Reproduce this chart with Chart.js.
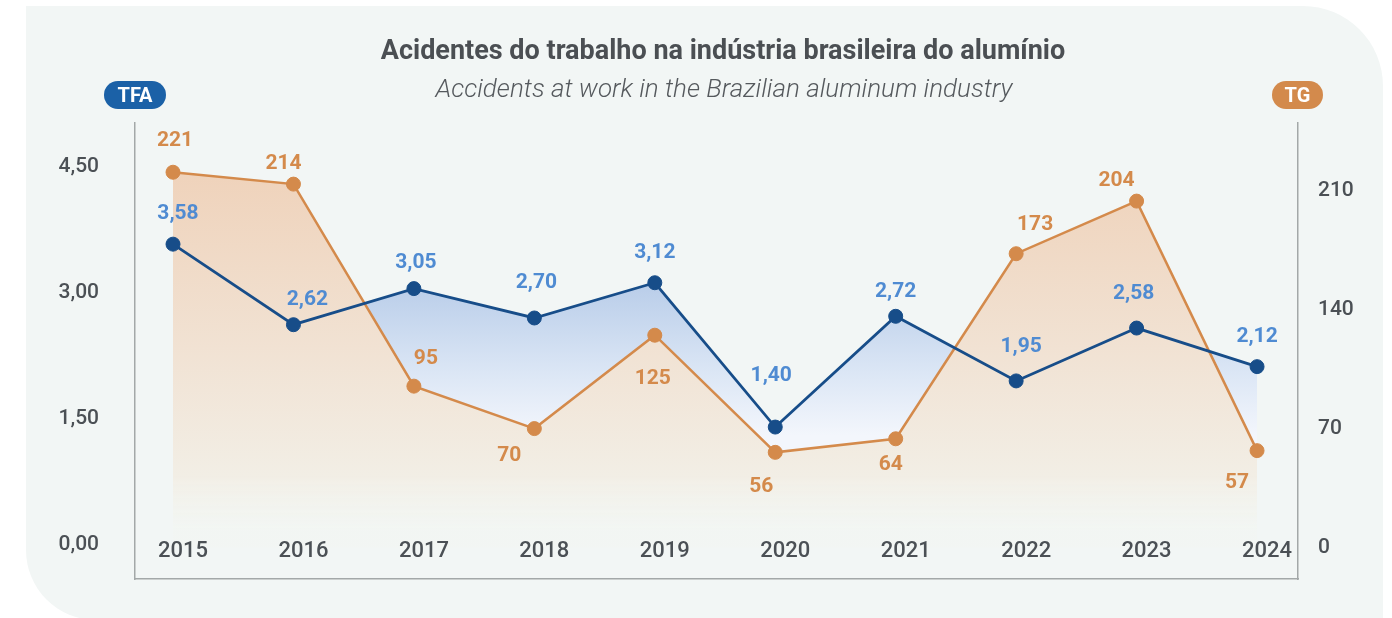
<!DOCTYPE html>
<html lang="pt-BR">
<head>
<meta charset="utf-8">
<title>Acidentes do trabalho na indústria brasileira do alumínio</title>
<script src="https://cdn.jsdelivr.net/npm/chart.js@4.4.1/dist/chart.umd.min.js"></script>
<style>
  html, body { margin: 0; padding: 0; background: #ffffff; }
  #wrap { position: relative; width: 1392px; height: 618px; overflow: hidden; font-family: Roboto, "Noto Sans", sans-serif; }
  .card { position: absolute; left: 26px; top: 6px; width: 1357px; height: 614px; background: #f2f6f5; border-radius: 0 80px 0 70px; }
  #acidentes { position: absolute; left: 0; top: 0; }
  .title { position: absolute; left: 723px; top: 34px; transform: translateX(-50%); white-space: nowrap;
           font-weight: 700; font-size: 27px; line-height: 32px; color: #4b4f53; }
  .subtitle { position: absolute; left: 724px; top: 73px; transform: translateX(-50%); white-space: nowrap;
              font-weight: 300; font-style: italic; font-size: 26px; line-height: 30px; color: #55595d; }
  .badge { position: absolute; top: 81px; height: 28px; border-radius: 14px; color: #ffffff;
           font-weight: 700; font-size: 20px; line-height: 28px; text-align: center; }
  .badge.tfa { left: 104px; width: 62px; background: #1b61a7; }
  .badge.tg { left: 1272px; width: 51px; background: #d38a4c; }
</style>
</head>
<body>
<div id="wrap">
  <div class="card"></div>
  <canvas id="acidentes" width="1392" height="618"></canvas>
  <div class="title">Acidentes do trabalho na indústria brasileira do alumínio</div>
  <div class="subtitle">Accidents at work in the Brazilian aluminum industry</div>
  <div class="badge tfa">TFA</div>
  <div class="badge tg">TG</div>
</div>
<script>
// Séries anuais
const YEARS = ['2015', '2016', '2017', '2018', '2019', '2020', '2021', '2022', '2023', '2024'];
const TFA = [3.58, 2.62, 3.05, 2.70, 3.12, 1.40, 2.72, 1.95, 2.58, 2.12];
const TG = [221, 214, 95, 70, 125, 56, 64, 173, 204, 57];

// Marcas dos eixos
const TFA_TICKS = [0, 1.5, 3, 4.5];
const TG_TICKS = [0, 70, 140, 210];

// Deslocamento dos rótulos de valor em relação ao ponto
const TFA_LABEL_DX = [5, 14, 2, 2, 0, -4, 0, 5, -3, 0];
const TFA_LABEL_DY = [-30, -25, -26, -35, -30, -51, -25, -34, -34, -30];
const TG_LABEL_DX = [2, -10, 12, -25, -2, -14, -5, 19, -20, -20];
const TG_LABEL_DY = [-31, -20, -27, 27, 44, 34, 26, -29, -20, 32];

const BLUE = '#174d89';
const BLUE_TEXT = '#4f8bd2';
const ORANGE = '#d48a4b';
const AXIS_TEXT = '#4b5055';

const fmtDec = (v) => v.toFixed(2).replace('.', ',');
const fmtInt = (v) => String(Math.round(v));

// Degradê azul entre as duas linhas
function blueFill(c) {
  const chart = c.chart;
  if (!chart.chartArea) return 'rgba(0,0,0,0)';
  const y = chart.scales.y;
  const g = chart.ctx.createLinearGradient(0, y.getPixelForValue(3.2), 0, y.getPixelForValue(1.3));
  g.addColorStop(0, '#b6cbe8');
  g.addColorStop(0.6, '#dbe6f5');
  g.addColorStop(1, '#f3f6fc');
  return g;
}

// Degradê laranja abaixo da linha TG
function orangeFill(c) {
  const chart = c.chart;
  if (!chart.chartArea) return 'rgba(0,0,0,0)';
  const y1 = chart.scales.y1;
  const g = chart.ctx.createLinearGradient(0, y1.getPixelForValue(225), 0, y1.getPixelForValue(10));
  g.addColorStop(0, '#efd2ba');
  g.addColorStop(0.5, '#f1e2d3');
  g.addColorStop(0.85, '#f2eee5');
  g.addColorStop(1, 'rgba(242,246,242,0.6)');
  return g;
}

const valueLabels = {
  id: 'valueLabels',
  afterDatasetsDraw(chart) {
    const { ctx } = chart;
    const sets = [
      { meta: chart.getDatasetMeta(0), values: TFA, dx: TFA_LABEL_DX, dy: TFA_LABEL_DY, color: BLUE_TEXT, fmt: fmtDec },
      { meta: chart.getDatasetMeta(1), values: TG, dx: TG_LABEL_DX, dy: TG_LABEL_DY, color: ORANGE, fmt: fmtInt }
    ];
    ctx.save();
    ctx.font = 'bold 21px Roboto';
    ctx.textAlign = 'center';
    ctx.textBaseline = 'middle';
    sets.forEach((s) => {
      ctx.fillStyle = s.color;
      s.meta.data.forEach((pt, i) => {
        ctx.fillText(s.fmt(s.values[i]), pt.x + s.dx[i], pt.y + s.dy[i]);
      });
    });
    ctx.restore();
  }
};

const tickFont = { family: 'Roboto', size: 21, weight: '500' };

// eixos verticais: largura fixa e sem reserva de margem pelos rótulos
const fixWidth = (w) => (s) => {
  s.width = w;
  s.paddingTop = 0;
  s.paddingBottom = 0;
};

function draw() {
  new Chart(document.getElementById('acidentes'), {
    type: 'line',
    data: {
      datasets: [
        {
          label: 'TFA',
          data: TFA.map((v, i) => ({ x: i, y: v })),
          yAxisID: 'y',
          borderColor: BLUE,
          borderWidth: 2.8,
          pointRadius: 7,
          pointHoverRadius: 7,
          pointBackgroundColor: BLUE,
          pointBorderColor: BLUE,
          pointBorderWidth: 1,
          tension: 0,
          backgroundColor: blueFill,
          fill: { target: 1, below: 'rgba(0,0,0,0)' }
        },
        {
          label: 'TG',
          data: TG.map((v, i) => ({ x: i, y: v })),
          yAxisID: 'y1',
          borderColor: ORANGE,
          borderWidth: 2.5,
          pointRadius: 7,
          pointHoverRadius: 7,
          pointBackgroundColor: ORANGE,
          pointBorderColor: ORANGE,
          pointBorderWidth: 1,
          tension: 0,
          backgroundColor: orangeFill,
          fill: 'origin'
        }
      ]
    },
    options: {
      responsive: false,
      animation: false,
      devicePixelRatio: 1,
      layout: { padding: { top: 123, left: 0, right: 0, bottom: 0 } },
      plugins: {
        legend: { display: false },
        tooltip: { enabled: false },
        filler: { drawTime: 'beforeDatasetsDraw' }
      },
      scales: {
        x: {
          type: 'linear',
          min: -0.3155,
          max: 9.34,
          grid: { display: false, drawTicks: false },
          border: { color: '#a3a8a8', width: 1.5 },
          afterBuildTicks: (s) => { s.ticks = YEARS.map((_, i) => ({ value: i })); },
          afterFit: (s) => { s.height = 39; },
          ticks: {
            z: 1,
            mirror: true,
            padding: 14,
            labelOffset: 10,
            autoSkip: false,
            maxRotation: 0,
            color: AXIS_TEXT,
            font: { family: 'Roboto', size: 22, weight: '500' },
            callback: (v) => YEARS[v]
          }
        },
        y: {
          position: 'left',
          min: -0.411,
          max: 5.024,
          grid: { display: false, drawTicks: false },
          border: { color: '#a3a8a8', width: 1.5 },
          afterBuildTicks: (s) => { s.ticks = TFA_TICKS.map((v) => ({ value: v })); },
          afterFit: fixWidth(135),
          ticks: { padding: 36, color: AXIS_TEXT, font: tickFont, callback: (v) => fmtDec(v) }
        },
        y1: {
          position: 'right',
          min: -18.6,
          max: 250,
          grid: { display: false, drawTicks: false },
          border: { color: '#a3a8a8', width: 1.5 },
          afterBuildTicks: (s) => { s.ticks = TG_TICKS.map((v) => ({ value: v })); },
          afterFit: fixWidth(94),
          ticks: { padding: 20, color: AXIS_TEXT, font: tickFont, callback: (v) => fmtInt(v) }
        }
      }
    },
    plugins: [valueLabels]
  });
}

Promise.all([
  document.fonts.load('bold 21px Roboto'),
  document.fonts.load('500 21px Roboto')
]).then(draw, draw);
</script>
</body>
</html>
